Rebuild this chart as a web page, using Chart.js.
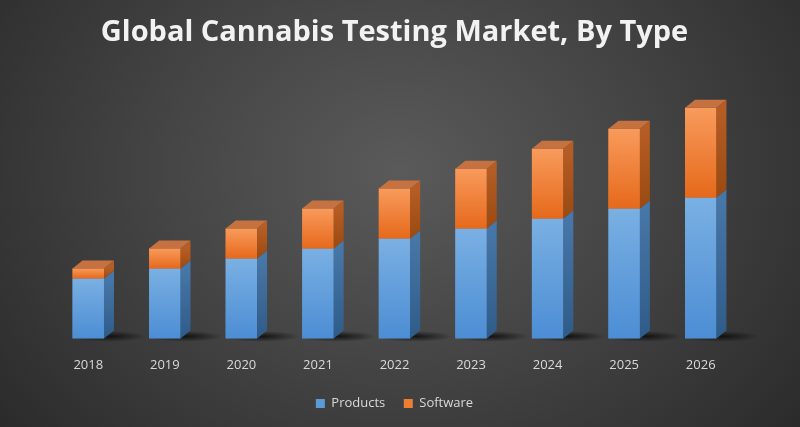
<!DOCTYPE html>
<html>
<head>
<meta charset="utf-8">
<script src="https://cdn.jsdelivr.net/npm/chart.js@4/dist/chart.umd.min.js"></script>
<style>
    html, body { margin: 0; padding: 0; }
    body {
        width: 800px; height: 427px; overflow: hidden;
        background: radial-gradient(ellipse 520px 420px at 400px 170px, #5a5a5a 0%, #454545 45%, #2a2a2a 100%);
    }
    #wrap { position: relative; width: 800px; height: 427px; }
</style>
</head>
<body>
<div id="wrap"><canvas id="marketChart"></canvas></div>
<script>
// Chart data
const years = ["2018", "2019", "2020", "2021", "2022", "2023", "2024", "2025", "2026"];
const productsValues = [6.0, 7.0, 8.0, 9.0, 10.0, 11.0, 12.0, 13.0, 14.1];
const softwareValues = [1.0, 2.0, 3.0, 4.0, 5.0, 6.0, 7.0, 8.0, 9.0];

const DEPTH_X = 10;
const DEPTH_Y = 8;

// face colours per series
const faces = {
    Products: { base: '#5b9bd5', front: ['#7ab0e3', '#4c8dd4'], side: ['#4777a8', '#2f5b88'] , top: '#8cbbe8' },
    Software: { base: '#ed7d31', front: ['#f89b5c', '#e6691b'], side: ['#b55d24', '#9a4a12'], top: '#c67240' }
};

// floor shadows + front gradient + side/top faces for the 3D look
const bar3d = {
    id: 'bar3d',
    beforeDatasetsDraw(chart) {
        const ctx = chart.ctx;
        const meta = chart.getDatasetMeta(0);
        meta.data.forEach(el => {
            const cx = el.x + el.width / 2 + 4;
            const cy = el.base - 2;
            ctx.save();
            ctx.translate(cx, cy);
            ctx.scale(1, 0.14);
            const g = ctx.createRadialGradient(0, 0, 0, 0, 0, 38);
            g.addColorStop(0, 'rgba(10,10,10,0.85)');
            g.addColorStop(1, 'rgba(10,10,10,0)');
            ctx.fillStyle = g;
            ctx.beginPath();
            ctx.arc(0, 0, 38, 0, Math.PI * 2);
            ctx.fill();
            ctx.restore();
        });
    },
    afterDatasetsDraw(chart) {
        const ctx = chart.ctx;
        const last = chart.data.datasets.length - 1;
        chart.data.datasets.forEach((ds, i) => {
            const f = faces[ds.label];
            chart.getDatasetMeta(i).data.forEach(el => {
                const right = el.x + el.width / 2;
                const left = el.x - el.width / 2;
                const top = Math.min(el.y, el.base);
                const bottom = Math.max(el.y, el.base);

                // front
                let g = ctx.createLinearGradient(0, top, 0, bottom);
                g.addColorStop(0, f.front[0]);
                g.addColorStop(1, f.front[1]);
                ctx.fillStyle = g;
                ctx.fillRect(left, top, right - left, bottom - top);

                // side
                g = ctx.createLinearGradient(0, top, 0, bottom);
                g.addColorStop(0, f.side[0]);
                g.addColorStop(1, f.side[1]);
                ctx.fillStyle = g;
                ctx.beginPath();
                ctx.moveTo(right, bottom);
                ctx.lineTo(right + DEPTH_X, bottom - DEPTH_Y);
                ctx.lineTo(right + DEPTH_X, top - DEPTH_Y);
                ctx.lineTo(right, top);
                ctx.closePath();
                ctx.fill();

                // top of the stack
                if (i === last) {
                    ctx.fillStyle = f.top;
                    ctx.beginPath();
                    ctx.moveTo(left, top);
                    ctx.lineTo(left + DEPTH_X, top - DEPTH_Y);
                    ctx.lineTo(right + DEPTH_X, top - DEPTH_Y);
                    ctx.lineTo(right, top);
                    ctx.closePath();
                    ctx.fill();
                }
            });
        });
    }
};

new Chart(document.getElementById('marketChart'), {
    type: 'bar',
    data: {
        labels: years,
        datasets: [
            { label: 'Products', data: productsValues, backgroundColor: faces.Products.base },
            { label: 'Software', data: softwareValues, backgroundColor: faces.Software.base }
        ]
    },
    options: {
        responsive: true,
        maintainAspectRatio: false,
        animation: false,
        layout: { padding: { left: 50, right: 61, top: 0, bottom: 7 } },
        datasets: {
            bar: { categoryPercentage: 1, barPercentage: 0.41, borderWidth: 0 }
        },
        scales: {
            x: {
                stacked: true,
                grid: { display: false, drawTicks: false },
                border: { display: false },
                ticks: { color: '#d9d9d9', font: { family: 'Open Sans', size: 13 }, padding: 19 }
            },
            y: {
                stacked: true,
                display: false,
                min: 0,
                max: 28.1
            }
        },
        plugins: {
            title: {
                display: true,
                text: 'Global Cannabis Testing Market, By Type',
                color: '#f2f2f2',
                font: { family: 'Open Sans', size: 29, weight: 'bold' },
                padding: { top: 15, bottom: 8 }
            },
            legend: {
                position: 'bottom',
                labels: {
                    color: '#d9d9d9',
                    font: { family: 'Open Sans', size: 13 },
                    boxWidth: 9,
                    boxHeight: 9,
                    padding: 5,
                    // keep the vertical padding small but leave a wider gap between items
                    generateLabels(chart) {
                        const items = Chart.defaults.plugins.legend.labels.generateLabels(chart);
                        items.forEach((it, idx) => {
                            if (idx < items.length - 1) it.text = it.text + '    ';
                        });
                        return items;
                    }
                }
            },
            tooltip: { enabled: false }
        }
    },
    plugins: [bar3d]
});
</script>
</body>
</html>
